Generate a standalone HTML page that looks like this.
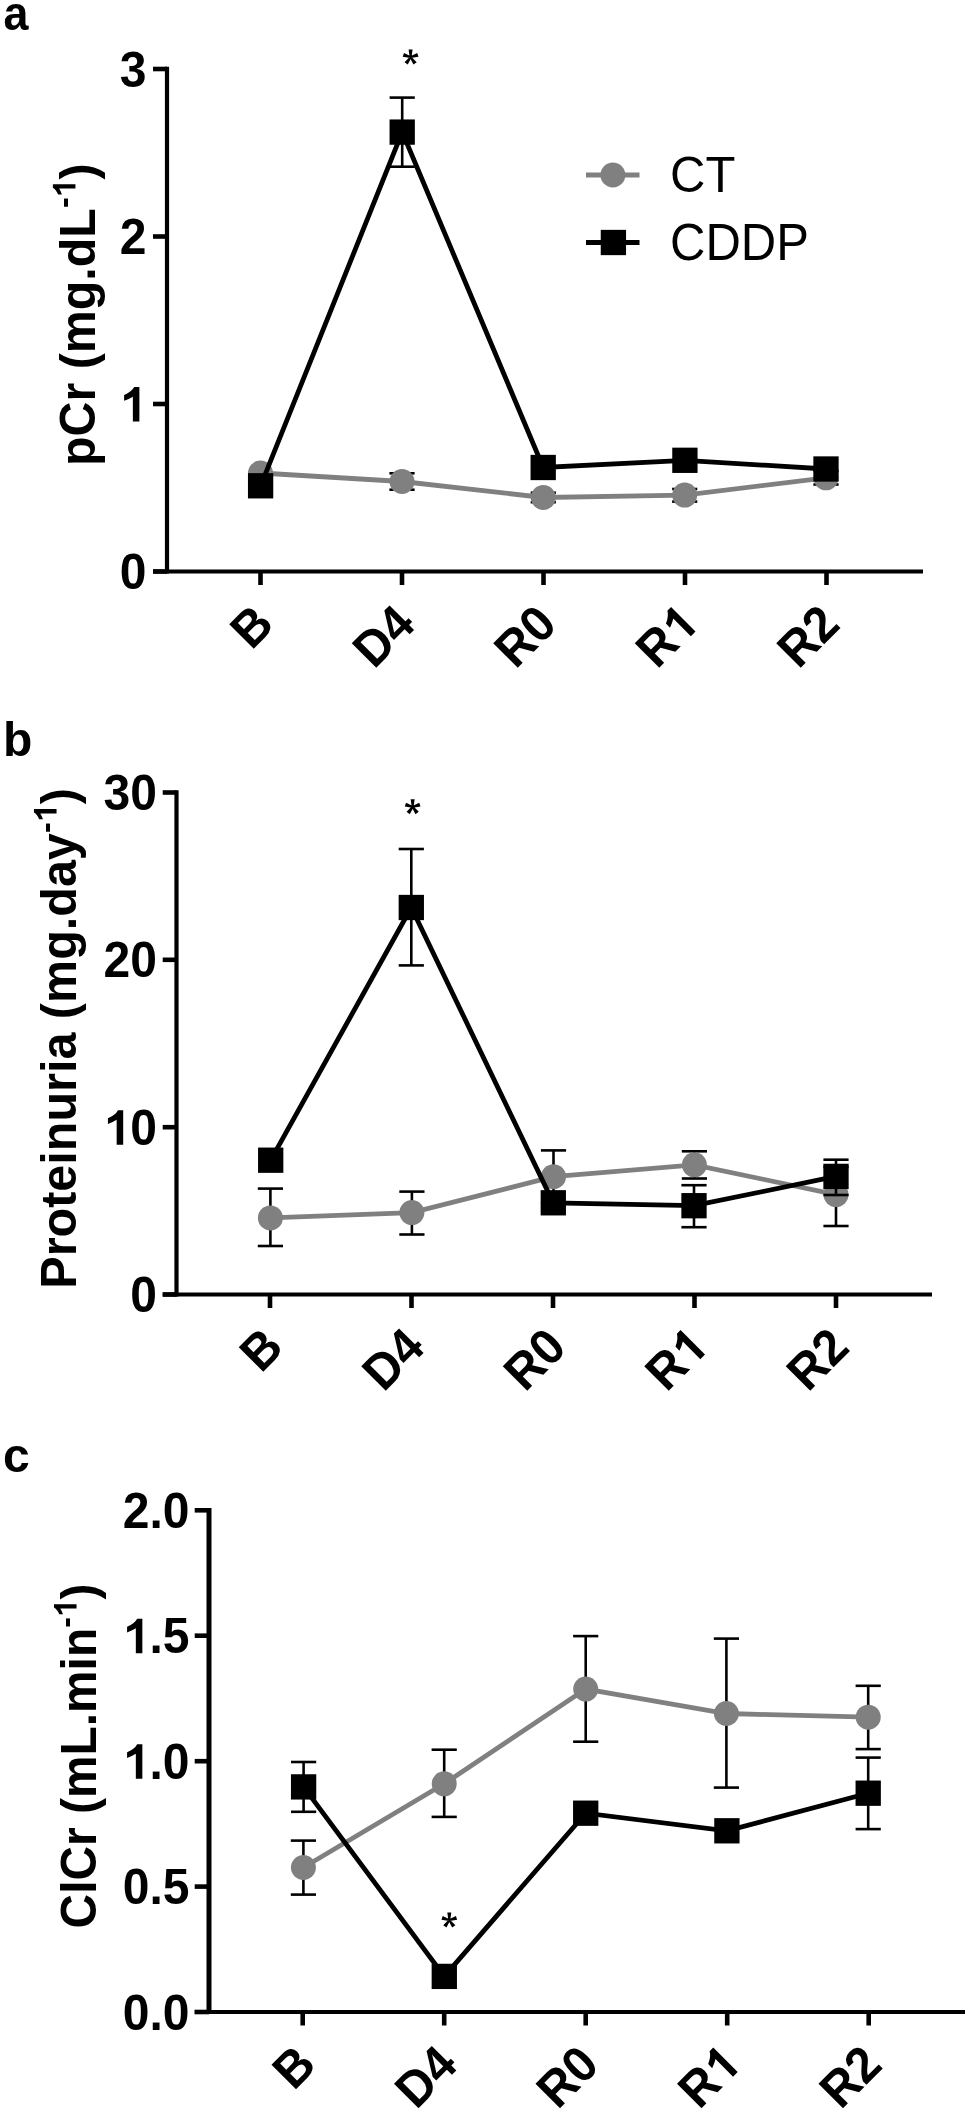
<!DOCTYPE html>
<html><head><meta charset="utf-8"><style>
html,body{margin:0;padding:0;background:#fff;}
svg{display:block;filter:blur(0.45px);}
text{font-family:"Liberation Sans", sans-serif;fill:#000;font-kerning:none;}
</style></head><body>
<svg width="968" height="2114" viewBox="0 0 968 2114">
<rect width="968" height="2114" fill="#fff"/>
<line x1="167" y1="66.7" x2="167" y2="573.6" stroke="#000" stroke-width="4.2"/>
<line x1="153" y1="571.5" x2="923" y2="571.5" stroke="#000" stroke-width="4.2"/>
<line x1="153" y1="69" x2="167" y2="69" stroke="#000" stroke-width="4.6"/>
<g transform="translate(146.5,86.5) scale(1,1.05) translate(-26.70,0)"><text x="0.00" y="0.00" font-size="48" font-weight="bold">3</text></g>
<line x1="153" y1="236.5" x2="167" y2="236.5" stroke="#000" stroke-width="4.6"/>
<g transform="translate(146.5,254.0) scale(1,1.05) translate(-26.70,0)"><text x="0.00" y="0.00" font-size="48" font-weight="bold">2</text></g>
<line x1="153" y1="404" x2="167" y2="404" stroke="#000" stroke-width="4.6"/>
<g transform="translate(146.5,421.5) scale(1,1.05) translate(-26.70,0)"><path d="M19.58,0.00 L19.58,-32.88 L14.40,-32.88 Q12.00,-28.42 4.32,-25.20 L4.32,-19.78 Q9.36,-21.36 13.06,-23.66 L13.06,0.00Z" fill="#000"/></g>
<line x1="153" y1="571.5" x2="167" y2="571.5" stroke="#000" stroke-width="4.6"/>
<g transform="translate(146.5,589.0) scale(1,1.05) translate(-26.70,0)"><text x="0.00" y="0.00" font-size="48" font-weight="bold">0</text></g>
<line x1="260.5" y1="571.5" x2="260.5" y2="585.0" stroke="#000" stroke-width="4.6"/>
<g transform="translate(276.0,626.5) rotate(-45) scale(1,1.05) translate(-34.66,0)"><text x="0.00" y="0.00" font-size="48" font-weight="bold">B</text></g>
<line x1="402" y1="571.5" x2="402" y2="585.0" stroke="#000" stroke-width="4.6"/>
<g transform="translate(417.5,626.5) rotate(-45) scale(1,1.05) translate(-61.36,0)"><text x="0.00" y="0.00" font-size="48" font-weight="bold">D4</text></g>
<line x1="543.5" y1="571.5" x2="543.5" y2="585.0" stroke="#000" stroke-width="4.6"/>
<g transform="translate(559.0,626.5) rotate(-45) scale(1,1.05) translate(-61.36,0)"><text x="0.00" y="0.00" font-size="48" font-weight="bold">R0</text></g>
<line x1="685" y1="571.5" x2="685" y2="585.0" stroke="#000" stroke-width="4.6"/>
<g transform="translate(700.5,626.5) rotate(-45) scale(1,1.05) translate(-61.36,0)"><text x="0.00" y="0.00" font-size="48" font-weight="bold">R</text>
<path d="M54.25,0.00 L54.25,-32.88 L49.06,-32.88 Q46.66,-28.42 38.98,-25.20 L38.98,-19.78 Q44.02,-21.36 47.72,-23.66 L47.72,0.00Z" fill="#000"/></g>
<line x1="826.5" y1="571.5" x2="826.5" y2="585.0" stroke="#000" stroke-width="4.6"/>
<g transform="translate(842.0,626.5) rotate(-45) scale(1,1.05) translate(-61.36,0)"><text x="0.00" y="0.00" font-size="48" font-weight="bold">R2</text></g>
<text transform="translate(3.5,30) scale(0.915,1)" font-weight="bold" font-size="49">a</text>
<g transform="translate(94.5,466.1) rotate(-90) scale(1.008,1.03) translate(0.00,0)"><text x="0.00" y="0.00" font-size="48" font-weight="bold">pCr (mg.dL</text>
<text x="255.96" y="-18.50" font-size="32" font-weight="bold">-</text>
<path d="M279.67,-18.50 L279.67,-40.42 L276.22,-40.42 Q274.62,-37.44 269.50,-35.30 L269.50,-31.68 Q272.86,-32.74 275.32,-34.28 L275.32,-18.50Z" fill="#000"/>
<text x="284.41" y="0.00" font-size="48" font-weight="bold">)</text></g>
<line x1="402" y1="481.5" x2="402" y2="473.3" stroke="#000" stroke-width="2.6"/>
<line x1="389.4" y1="473.3" x2="414.6" y2="473.3" stroke="#000" stroke-width="2.6"/>
<line x1="402" y1="481.5" x2="402" y2="489.7" stroke="#000" stroke-width="2.6"/>
<line x1="389.4" y1="489.7" x2="414.6" y2="489.7" stroke="#000" stroke-width="2.6"/>
<line x1="543.3" y1="497.5" x2="543.3" y2="492.7" stroke="#000" stroke-width="2.6"/>
<line x1="530.6999999999999" y1="492.7" x2="555.9" y2="492.7" stroke="#000" stroke-width="2.6"/>
<line x1="543.3" y1="497.5" x2="543.3" y2="502.2" stroke="#000" stroke-width="2.6"/>
<line x1="530.6999999999999" y1="502.2" x2="555.9" y2="502.2" stroke="#000" stroke-width="2.6"/>
<line x1="684.7" y1="495.1" x2="684.7" y2="489" stroke="#000" stroke-width="2.6"/>
<line x1="672.1" y1="489" x2="697.3000000000001" y2="489" stroke="#000" stroke-width="2.6"/>
<line x1="684.7" y1="495.1" x2="684.7" y2="501.6" stroke="#000" stroke-width="2.6"/>
<line x1="672.1" y1="501.6" x2="697.3000000000001" y2="501.6" stroke="#000" stroke-width="2.6"/>
<line x1="826" y1="477.8" x2="826" y2="471" stroke="#000" stroke-width="2.6"/>
<line x1="813.4" y1="471" x2="838.6" y2="471" stroke="#000" stroke-width="2.6"/>
<line x1="826" y1="477.8" x2="826" y2="484.5" stroke="#000" stroke-width="2.6"/>
<line x1="813.4" y1="484.5" x2="838.6" y2="484.5" stroke="#000" stroke-width="2.6"/>
<polyline points="260.5,473 402,481.5 543.3,497.5 684.7,495.1 826,477.8" fill="none" stroke="#808080" stroke-width="4.8" stroke-linejoin="miter"/>
<circle cx="260.5" cy="473" r="12.5" fill="#808080"/>
<circle cx="402" cy="481.5" r="12.5" fill="#808080"/>
<circle cx="543.3" cy="497.5" r="12.5" fill="#808080"/>
<circle cx="684.7" cy="495.1" r="12.5" fill="#808080"/>
<circle cx="826" cy="477.8" r="12.5" fill="#808080"/>
<line x1="402.2" y1="132.1" x2="402.2" y2="97.6" stroke="#000" stroke-width="2.6"/>
<line x1="389.59999999999997" y1="97.6" x2="414.8" y2="97.6" stroke="#000" stroke-width="2.6"/>
<line x1="402.2" y1="132.1" x2="402.2" y2="166.7" stroke="#000" stroke-width="2.6"/>
<line x1="389.59999999999997" y1="166.7" x2="414.8" y2="166.7" stroke="#000" stroke-width="2.6"/>
<polyline points="260.6,485.8 402.2,132.1 543.2,467.5 684.9,460.3 826,469" fill="none" stroke="#000" stroke-width="4.8" stroke-linejoin="miter"/>
<rect x="247.95000000000002" y="473.15000000000003" width="25.3" height="25.3" fill="#000"/>
<rect x="389.55" y="119.44999999999999" width="25.3" height="25.3" fill="#000"/>
<rect x="530.5500000000001" y="454.85" width="25.3" height="25.3" fill="#000"/>
<rect x="672.25" y="447.65000000000003" width="25.3" height="25.3" fill="#000"/>
<rect x="813.35" y="456.35" width="25.3" height="25.3" fill="#000"/>
<path d="M411.50,57.20 L412.60,49.60 L408.60,49.60 L409.70,57.20Z M410.88,58.06 L418.45,56.75 L417.21,52.95 L410.32,56.34Z M409.87,57.73 L413.45,64.52 L416.69,62.17 L411.33,56.67Z M409.87,56.67 L404.51,62.17 L407.75,64.52 L411.33,57.73Z M410.88,56.34 L403.99,52.95 L402.75,56.75 L410.32,58.06Z M409.00,57.20 a1.6,1.6 0 1,0 3.2,0 a1.6,1.6 0 1,0 -3.2,0Z" fill="#000"/>
<line x1="176.5" y1="790.2" x2="176.5" y2="1296.6" stroke="#000" stroke-width="4.2"/>
<line x1="162.7" y1="1294.5" x2="932" y2="1294.5" stroke="#000" stroke-width="4.2"/>
<line x1="162.7" y1="792.5" x2="176.5" y2="792.5" stroke="#000" stroke-width="4.6"/>
<g transform="translate(157,810.0) scale(1,1.05) translate(-53.39,0)"><text x="0.00" y="0.00" font-size="48" font-weight="bold">30</text></g>
<line x1="162.7" y1="959.8" x2="176.5" y2="959.8" stroke="#000" stroke-width="4.6"/>
<g transform="translate(157,977.3) scale(1,1.05) translate(-53.39,0)"><text x="0.00" y="0.00" font-size="48" font-weight="bold">20</text></g>
<line x1="162.7" y1="1127.2" x2="176.5" y2="1127.2" stroke="#000" stroke-width="4.6"/>
<g transform="translate(157,1144.7) scale(1,1.05) translate(-53.39,0)"><path d="M19.58,0.00 L19.58,-32.88 L14.40,-32.88 Q12.00,-28.42 4.32,-25.20 L4.32,-19.78 Q9.36,-21.36 13.06,-23.66 L13.06,0.00Z" fill="#000"/>
<text x="26.70" y="0.00" font-size="48" font-weight="bold">0</text></g>
<line x1="162.7" y1="1294.5" x2="176.5" y2="1294.5" stroke="#000" stroke-width="4.6"/>
<g transform="translate(157,1312.0) scale(1,1.05) translate(-26.70,0)"><text x="0.00" y="0.00" font-size="48" font-weight="bold">0</text></g>
<line x1="270" y1="1294.5" x2="270" y2="1308.0" stroke="#000" stroke-width="4.6"/>
<g transform="translate(285.5,1349.5) rotate(-45) scale(1,1.05) translate(-34.66,0)"><text x="0.00" y="0.00" font-size="48" font-weight="bold">B</text></g>
<line x1="411.5" y1="1294.5" x2="411.5" y2="1308.0" stroke="#000" stroke-width="4.6"/>
<g transform="translate(427.0,1349.5) rotate(-45) scale(1,1.05) translate(-61.36,0)"><text x="0.00" y="0.00" font-size="48" font-weight="bold">D4</text></g>
<line x1="553" y1="1294.5" x2="553" y2="1308.0" stroke="#000" stroke-width="4.6"/>
<g transform="translate(568.5,1349.5) rotate(-45) scale(1,1.05) translate(-61.36,0)"><text x="0.00" y="0.00" font-size="48" font-weight="bold">R0</text></g>
<line x1="694.5" y1="1294.5" x2="694.5" y2="1308.0" stroke="#000" stroke-width="4.6"/>
<g transform="translate(710.0,1349.5) rotate(-45) scale(1,1.05) translate(-61.36,0)"><text x="0.00" y="0.00" font-size="48" font-weight="bold">R</text>
<path d="M54.25,0.00 L54.25,-32.88 L49.06,-32.88 Q46.66,-28.42 38.98,-25.20 L38.98,-19.78 Q44.02,-21.36 47.72,-23.66 L47.72,0.00Z" fill="#000"/></g>
<line x1="836" y1="1294.5" x2="836" y2="1308.0" stroke="#000" stroke-width="4.6"/>
<g transform="translate(851.5,1349.5) rotate(-45) scale(1,1.05) translate(-61.36,0)"><text x="0.00" y="0.00" font-size="48" font-weight="bold">R2</text></g>
<text transform="translate(3,756) scale(1,1)" font-weight="bold" font-size="48">b</text>
<g transform="translate(75.6,1288.7) rotate(-90) scale(1.011,1.03) translate(0.00,0)"><text x="0.00" y="0.00" font-size="48" font-weight="bold">Proteinuria (mg.day</text>
<text x="450.75" y="-18.50" font-size="32" font-weight="bold">-</text>
<path d="M474.46,-18.50 L474.46,-40.42 L471.01,-40.42 Q469.41,-37.44 464.29,-35.30 L464.29,-31.68 Q467.65,-32.74 470.11,-34.28 L470.11,-18.50Z" fill="#000"/>
<text x="479.20" y="0.00" font-size="48" font-weight="bold">)</text></g>
<line x1="270.4" y1="1217.9" x2="270.4" y2="1188.6" stroke="#000" stroke-width="2.6"/>
<line x1="257.79999999999995" y1="1188.6" x2="283.0" y2="1188.6" stroke="#000" stroke-width="2.6"/>
<line x1="270.4" y1="1217.9" x2="270.4" y2="1246" stroke="#000" stroke-width="2.6"/>
<line x1="257.79999999999995" y1="1246" x2="283.0" y2="1246" stroke="#000" stroke-width="2.6"/>
<line x1="411.9" y1="1212.6" x2="411.9" y2="1191.6" stroke="#000" stroke-width="2.6"/>
<line x1="399.29999999999995" y1="1191.6" x2="424.5" y2="1191.6" stroke="#000" stroke-width="2.6"/>
<line x1="411.9" y1="1212.6" x2="411.9" y2="1234.5" stroke="#000" stroke-width="2.6"/>
<line x1="399.29999999999995" y1="1234.5" x2="424.5" y2="1234.5" stroke="#000" stroke-width="2.6"/>
<line x1="553.5" y1="1176.7" x2="553.5" y2="1150.4" stroke="#000" stroke-width="2.6"/>
<line x1="540.9" y1="1150.4" x2="566.1" y2="1150.4" stroke="#000" stroke-width="2.6"/>
<line x1="553.5" y1="1176.7" x2="553.5" y2="1203" stroke="#000" stroke-width="2.6"/>
<line x1="540.9" y1="1203" x2="566.1" y2="1203" stroke="#000" stroke-width="2.6"/>
<line x1="694.4" y1="1164.8" x2="694.4" y2="1151.3" stroke="#000" stroke-width="2.6"/>
<line x1="681.8" y1="1151.3" x2="707.0" y2="1151.3" stroke="#000" stroke-width="2.6"/>
<line x1="694.4" y1="1164.8" x2="694.4" y2="1178.5" stroke="#000" stroke-width="2.6"/>
<line x1="681.8" y1="1178.5" x2="707.0" y2="1178.5" stroke="#000" stroke-width="2.6"/>
<line x1="836" y1="1194.6" x2="836" y2="1167" stroke="#000" stroke-width="2.6"/>
<line x1="823.4" y1="1167" x2="848.6" y2="1167" stroke="#000" stroke-width="2.6"/>
<line x1="836" y1="1194.6" x2="836" y2="1226" stroke="#000" stroke-width="2.6"/>
<line x1="823.4" y1="1226" x2="848.6" y2="1226" stroke="#000" stroke-width="2.6"/>
<polyline points="270.4,1217.9 411.9,1212.6 553.5,1176.7 694.4,1164.8 836,1194.6" fill="none" stroke="#808080" stroke-width="4.8" stroke-linejoin="miter"/>
<circle cx="270.4" cy="1217.9" r="12.5" fill="#808080"/>
<circle cx="411.9" cy="1212.6" r="12.5" fill="#808080"/>
<circle cx="553.5" cy="1176.7" r="12.5" fill="#808080"/>
<circle cx="694.4" cy="1164.8" r="12.5" fill="#808080"/>
<circle cx="836" cy="1194.6" r="12.5" fill="#808080"/>
<line x1="411.3" y1="907.5" x2="411.3" y2="849" stroke="#000" stroke-width="2.6"/>
<line x1="398.7" y1="849" x2="423.90000000000003" y2="849" stroke="#000" stroke-width="2.6"/>
<line x1="411.3" y1="907.5" x2="411.3" y2="965.4" stroke="#000" stroke-width="2.6"/>
<line x1="398.7" y1="965.4" x2="423.90000000000003" y2="965.4" stroke="#000" stroke-width="2.6"/>
<line x1="694" y1="1205.7" x2="694" y2="1185.2" stroke="#000" stroke-width="2.6"/>
<line x1="681.4" y1="1185.2" x2="706.6" y2="1185.2" stroke="#000" stroke-width="2.6"/>
<line x1="694" y1="1205.7" x2="694" y2="1227.2" stroke="#000" stroke-width="2.6"/>
<line x1="681.4" y1="1227.2" x2="706.6" y2="1227.2" stroke="#000" stroke-width="2.6"/>
<line x1="836" y1="1176.4" x2="836" y2="1159.7" stroke="#000" stroke-width="2.6"/>
<line x1="823.4" y1="1159.7" x2="848.6" y2="1159.7" stroke="#000" stroke-width="2.6"/>
<line x1="836" y1="1176.4" x2="836" y2="1195" stroke="#000" stroke-width="2.6"/>
<line x1="823.4" y1="1195" x2="848.6" y2="1195" stroke="#000" stroke-width="2.6"/>
<polyline points="270.7,1160.2 411.3,907.5 553.3,1202.8 694,1205.7 836,1176.4" fill="none" stroke="#000" stroke-width="4.8" stroke-linejoin="miter"/>
<rect x="258.05" y="1147.55" width="25.3" height="25.3" fill="#000"/>
<rect x="398.65000000000003" y="894.85" width="25.3" height="25.3" fill="#000"/>
<rect x="540.65" y="1190.1499999999999" width="25.3" height="25.3" fill="#000"/>
<rect x="681.35" y="1193.05" width="25.3" height="25.3" fill="#000"/>
<rect x="823.35" y="1163.75" width="25.3" height="25.3" fill="#000"/>
<path d="M413.55,806.90 L414.65,799.30 L410.65,799.30 L411.75,806.90Z M412.93,807.76 L420.50,806.45 L419.26,802.65 L412.37,806.04Z M411.92,807.43 L415.50,814.22 L418.74,811.87 L413.38,806.37Z M411.92,806.37 L406.56,811.87 L409.80,814.22 L413.38,807.43Z M412.93,806.04 L406.04,802.65 L404.80,806.45 L412.37,807.76Z M411.05,806.90 a1.6,1.6 0 1,0 3.2,0 a1.6,1.6 0 1,0 -3.2,0Z" fill="#000"/>
<line x1="209" y1="1508.0" x2="209" y2="2014.1" stroke="#000" stroke-width="5"/>
<line x1="194.7" y1="2012" x2="965" y2="2012" stroke="#000" stroke-width="4.2"/>
<line x1="194.7" y1="1510.3" x2="209" y2="1510.3" stroke="#000" stroke-width="4.6"/>
<g transform="translate(189.5,1527.8) scale(1,1.05) translate(-66.73,0)"><text x="0.00" y="0.00" font-size="48" font-weight="bold">2.0</text></g>
<line x1="194.7" y1="1635.7" x2="209" y2="1635.7" stroke="#000" stroke-width="4.6"/>
<g transform="translate(189.5,1653.2) scale(1,1.05) translate(-66.73,0)"><path d="M19.58,0.00 L19.58,-32.88 L14.40,-32.88 Q12.00,-28.42 4.32,-25.20 L4.32,-19.78 Q9.36,-21.36 13.06,-23.66 L13.06,0.00Z" fill="#000"/>
<text x="26.70" y="0.00" font-size="48" font-weight="bold">.5</text></g>
<line x1="194.7" y1="1761.2" x2="209" y2="1761.2" stroke="#000" stroke-width="4.6"/>
<g transform="translate(189.5,1778.7) scale(1,1.05) translate(-66.73,0)"><path d="M19.58,0.00 L19.58,-32.88 L14.40,-32.88 Q12.00,-28.42 4.32,-25.20 L4.32,-19.78 Q9.36,-21.36 13.06,-23.66 L13.06,0.00Z" fill="#000"/>
<text x="26.70" y="0.00" font-size="48" font-weight="bold">.0</text></g>
<line x1="194.7" y1="1886.6" x2="209" y2="1886.6" stroke="#000" stroke-width="4.6"/>
<g transform="translate(189.5,1904.1) scale(1,1.05) translate(-66.73,0)"><text x="0.00" y="0.00" font-size="48" font-weight="bold">0.5</text></g>
<line x1="194.7" y1="2012" x2="209" y2="2012" stroke="#000" stroke-width="4.6"/>
<g transform="translate(189.5,2029.5) scale(1,1.05) translate(-66.73,0)"><text x="0.00" y="0.00" font-size="48" font-weight="bold">0.0</text></g>
<line x1="302.7" y1="2012" x2="302.7" y2="2025.5" stroke="#000" stroke-width="4.6"/>
<g transform="translate(318.2,2067) rotate(-45) scale(1,1.05) translate(-34.66,0)"><text x="0.00" y="0.00" font-size="48" font-weight="bold">B</text></g>
<line x1="444.2" y1="2012" x2="444.2" y2="2025.5" stroke="#000" stroke-width="4.6"/>
<g transform="translate(459.7,2067) rotate(-45) scale(1,1.05) translate(-61.36,0)"><text x="0.00" y="0.00" font-size="48" font-weight="bold">D4</text></g>
<line x1="585.7" y1="2012" x2="585.7" y2="2025.5" stroke="#000" stroke-width="4.6"/>
<g transform="translate(601.2,2067) rotate(-45) scale(1,1.05) translate(-61.36,0)"><text x="0.00" y="0.00" font-size="48" font-weight="bold">R0</text></g>
<line x1="727.2" y1="2012" x2="727.2" y2="2025.5" stroke="#000" stroke-width="4.6"/>
<g transform="translate(742.7,2067) rotate(-45) scale(1,1.05) translate(-61.36,0)"><text x="0.00" y="0.00" font-size="48" font-weight="bold">R</text>
<path d="M54.25,0.00 L54.25,-32.88 L49.06,-32.88 Q46.66,-28.42 38.98,-25.20 L38.98,-19.78 Q44.02,-21.36 47.72,-23.66 L47.72,0.00Z" fill="#000"/></g>
<line x1="868.7" y1="2012" x2="868.7" y2="2025.5" stroke="#000" stroke-width="4.6"/>
<g transform="translate(884.2,2067) rotate(-45) scale(1,1.05) translate(-61.36,0)"><text x="0.00" y="0.00" font-size="48" font-weight="bold">R2</text></g>
<text transform="translate(3,1472) scale(1,1)" font-weight="bold" font-size="48">c</text>
<g transform="translate(95.6,1928.4) rotate(-90) scale(0.9975,1.03) translate(0.00,0)"><text x="0.00" y="0.00" font-size="48" font-weight="bold">ClCr (mL.min</text>
<text x="301.34" y="-18.50" font-size="32" font-weight="bold">-</text>
<path d="M325.05,-18.50 L325.05,-40.42 L321.59,-40.42 Q319.99,-37.44 314.87,-35.30 L314.87,-31.68 Q318.23,-32.74 320.70,-34.28 L320.70,-18.50Z" fill="#000"/>
<text x="329.79" y="0.00" font-size="48" font-weight="bold">)</text></g>
<line x1="303.4" y1="1867.5" x2="303.4" y2="1840.6" stroke="#000" stroke-width="2.6"/>
<line x1="290.79999999999995" y1="1840.6" x2="316.0" y2="1840.6" stroke="#000" stroke-width="2.6"/>
<line x1="303.4" y1="1867.5" x2="303.4" y2="1894.6" stroke="#000" stroke-width="2.6"/>
<line x1="290.79999999999995" y1="1894.6" x2="316.0" y2="1894.6" stroke="#000" stroke-width="2.6"/>
<line x1="444.2" y1="1783.8" x2="444.2" y2="1749.7" stroke="#000" stroke-width="2.6"/>
<line x1="431.59999999999997" y1="1749.7" x2="456.8" y2="1749.7" stroke="#000" stroke-width="2.6"/>
<line x1="444.2" y1="1783.8" x2="444.2" y2="1816.9" stroke="#000" stroke-width="2.6"/>
<line x1="431.59999999999997" y1="1816.9" x2="456.8" y2="1816.9" stroke="#000" stroke-width="2.6"/>
<line x1="585.7" y1="1689.1" x2="585.7" y2="1636.1" stroke="#000" stroke-width="2.6"/>
<line x1="573.1" y1="1636.1" x2="598.3000000000001" y2="1636.1" stroke="#000" stroke-width="2.6"/>
<line x1="585.7" y1="1689.1" x2="585.7" y2="1741.7" stroke="#000" stroke-width="2.6"/>
<line x1="573.1" y1="1741.7" x2="598.3000000000001" y2="1741.7" stroke="#000" stroke-width="2.6"/>
<line x1="726.4" y1="1713.5" x2="726.4" y2="1638.6" stroke="#000" stroke-width="2.6"/>
<line x1="713.8" y1="1638.6" x2="739.0" y2="1638.6" stroke="#000" stroke-width="2.6"/>
<line x1="726.4" y1="1713.5" x2="726.4" y2="1787.6" stroke="#000" stroke-width="2.6"/>
<line x1="713.8" y1="1787.6" x2="739.0" y2="1787.6" stroke="#000" stroke-width="2.6"/>
<line x1="868.2" y1="1717.2" x2="868.2" y2="1685.8" stroke="#000" stroke-width="2.6"/>
<line x1="855.6" y1="1685.8" x2="880.8000000000001" y2="1685.8" stroke="#000" stroke-width="2.6"/>
<line x1="868.2" y1="1717.2" x2="868.2" y2="1749.1" stroke="#000" stroke-width="2.6"/>
<line x1="855.6" y1="1749.1" x2="880.8000000000001" y2="1749.1" stroke="#000" stroke-width="2.6"/>
<polyline points="303.4,1867.5 444.2,1783.8 585.7,1689.1 726.4,1713.5 868.2,1717.2" fill="none" stroke="#808080" stroke-width="4.8" stroke-linejoin="miter"/>
<circle cx="303.4" cy="1867.5" r="12.5" fill="#808080"/>
<circle cx="444.2" cy="1783.8" r="12.5" fill="#808080"/>
<circle cx="585.7" cy="1689.1" r="12.5" fill="#808080"/>
<circle cx="726.4" cy="1713.5" r="12.5" fill="#808080"/>
<circle cx="868.2" cy="1717.2" r="12.5" fill="#808080"/>
<line x1="303.6" y1="1786.9" x2="303.6" y2="1762" stroke="#000" stroke-width="2.6"/>
<line x1="291.0" y1="1762" x2="316.20000000000005" y2="1762" stroke="#000" stroke-width="2.6"/>
<line x1="303.6" y1="1786.9" x2="303.6" y2="1811.8" stroke="#000" stroke-width="2.6"/>
<line x1="291.0" y1="1811.8" x2="316.20000000000005" y2="1811.8" stroke="#000" stroke-width="2.6"/>
<line x1="868.2" y1="1793.2" x2="868.2" y2="1757.6" stroke="#000" stroke-width="2.6"/>
<line x1="855.6" y1="1757.6" x2="880.8000000000001" y2="1757.6" stroke="#000" stroke-width="2.6"/>
<line x1="868.2" y1="1793.2" x2="868.2" y2="1829.1" stroke="#000" stroke-width="2.6"/>
<line x1="855.6" y1="1829.1" x2="880.8000000000001" y2="1829.1" stroke="#000" stroke-width="2.6"/>
<polyline points="303.6,1786.9 444.3,1976.4 585.7,1813.2 726.9,1830.8 868.2,1793.2" fill="none" stroke="#000" stroke-width="4.8" stroke-linejoin="miter"/>
<rect x="290.95000000000005" y="1774.25" width="25.3" height="25.3" fill="#000"/>
<rect x="431.65000000000003" y="1963.75" width="25.3" height="25.3" fill="#000"/>
<rect x="573.0500000000001" y="1800.55" width="25.3" height="25.3" fill="#000"/>
<rect x="714.25" y="1818.1499999999999" width="25.3" height="25.3" fill="#000"/>
<rect x="855.5500000000001" y="1780.55" width="25.3" height="25.3" fill="#000"/>
<path d="M450.20,1920.20 L451.30,1912.60 L447.30,1912.60 L448.40,1920.20Z M449.58,1921.06 L457.15,1919.75 L455.91,1915.95 L449.02,1919.34Z M448.57,1920.73 L452.15,1927.52 L455.39,1925.17 L450.03,1919.67Z M448.57,1919.67 L443.21,1925.17 L446.45,1927.52 L450.03,1920.73Z M449.58,1919.34 L442.69,1915.95 L441.45,1919.75 L449.02,1921.06Z M447.70,1920.20 a1.6,1.6 0 1,0 3.2,0 a1.6,1.6 0 1,0 -3.2,0Z" fill="#000"/>
<line x1="586" y1="175" x2="639.5" y2="175" stroke="#808080" stroke-width="4.8"/>
<circle cx="612.9" cy="175" r="12.5" fill="#808080"/>
<line x1="586" y1="242.5" x2="639.5" y2="242.5" stroke="#000" stroke-width="4.8"/>
<rect x="600.75" y="229.85" width="25.3" height="25.3" fill="#000"/>
<text transform="translate(670,192) scale(1,1.035)" font-size="49">CT</text>
<text transform="translate(670,259.5) scale(1,1.045)" font-size="49">CDDP</text>
</svg>
</body></html>
